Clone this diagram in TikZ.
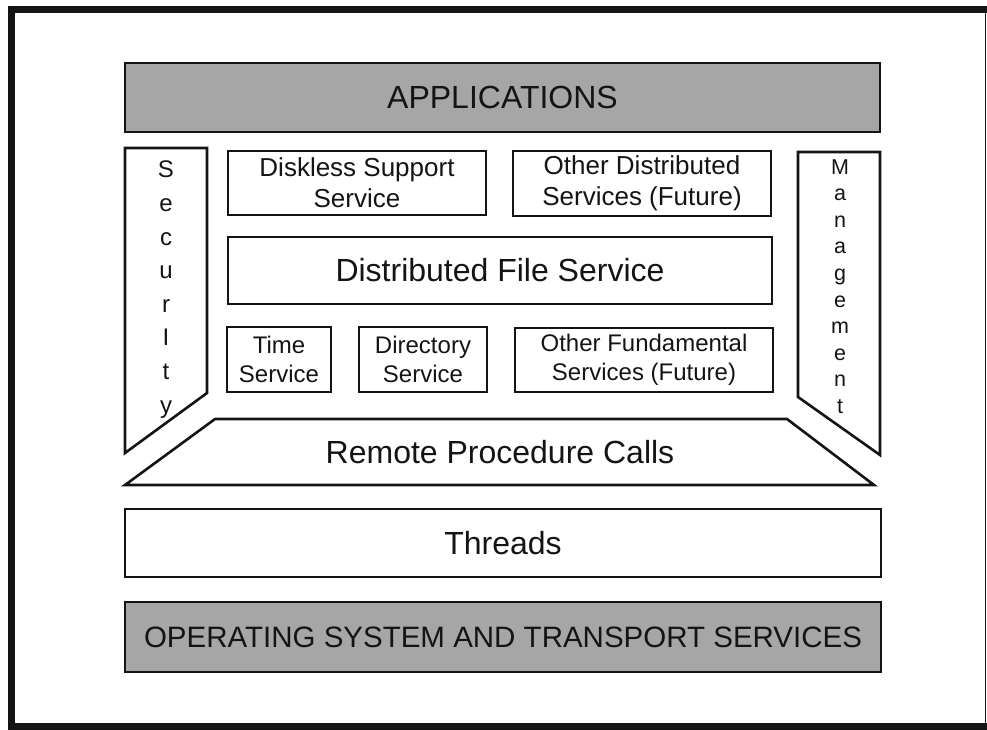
\documentclass[tikz,border=0pt]{standalone}
\usepackage{fontspec}
\setmainfont{Liberation Sans}
\definecolor{boxgray}{RGB}{166,166,166}
\definecolor{ink}{RGB}{20,20,20}
\begin{document}
\begin{tikzpicture}[x=1pt,y=-1pt,
  line join=miter,
  box/.style={draw=ink, line width=2.6pt, inner sep=0pt, align=center, text=ink},
  graybox/.style={box, fill=boxgray},
  big/.style={font=\fontsize{32}{38}\selectfont},
  mid/.style={font=\fontsize{26}{31}\selectfont},
  small/.style={font=\fontsize{24}{29}\selectfont},
  shapeline/.style={draw=ink, line width=2.6pt},
  label/.style={inner sep=0pt, align=center, text=ink}]
\useasboundingbox (0,0) rectangle (987,729);
% outer frame
\draw[ink, line width=1pt] (985,9) -- (985,726);
\draw[ink, line width=7pt, line cap=rect] (987,9) -- (11.5,9) -- (11.5,726) -- (987,726);

% top layer
\node[graybox, big, minimum width=755pt, minimum height=69pt] (apps) at (502.5,97.5) {APPLICATIONS};

% side shapes
\draw[shapeline] (125,148) -- (207,148) -- (207,393) -- (125,453) -- cycle;
\coordinate (secTop) at (166,161);
\node[label, anchor=north, font=\fontsize{24}{33.6}\selectfont] (sec) at (secTop) {S\\e\\c\\u\\r\\I\\t\\y};

\draw[shapeline] (798,152) -- (880,152) -- (880,455) -- (798,397) -- cycle;
\coordinate (mgmtTop) at (840,159);
\node[label, anchor=north, font=\fontsize{21.5}{26.6}\selectfont] (mgmt) at (mgmtTop) {M\\a\\n\\a\\g\\e\\m\\e\\n\\t};

% distributed services
\node[box, mid, minimum width=258pt, minimum height=64pt] (disk) at (357,183) {Diskless Support\\Service};
\node[box, mid, minimum width=258pt, minimum height=65pt] (odist) at (642,183.5) {Other Distributed\\Services (Future)};
\node[box, big, minimum width=544pt, minimum height=67pt] (dfs) at (500,270.5) {Distributed File Service};

% fundamental services
\node[box, small, minimum width=104pt, minimum height=65pt] (time) at (279,359.5) {Time\\Service};
\node[box, small, minimum width=128pt, minimum height=65pt] (dir) at (423,359.5) {Directory\\Service};
\node[box, small, minimum width=258pt, minimum height=64pt] (ofund) at (644,360) {Other Fundamental\\Services (Future)};

% RPC
\draw[shapeline] (125,485) -- (215,419) -- (787,419) -- (874,485) -- cycle;
\node[label, big] (rpc) at (500,452) {Remote Procedure Calls};

% threads
\node[box, big, minimum width=756pt, minimum height=68pt] (threads) at (503,543) {Threads};

% OS
\node[graybox, font=\fontsize{29.5}{35}\selectfont, minimum width=756pt, minimum height=70pt] (os) at (503,637) {OPERATING SYSTEM AND TRANSPORT SERVICES};
\end{tikzpicture}
\end{document}
